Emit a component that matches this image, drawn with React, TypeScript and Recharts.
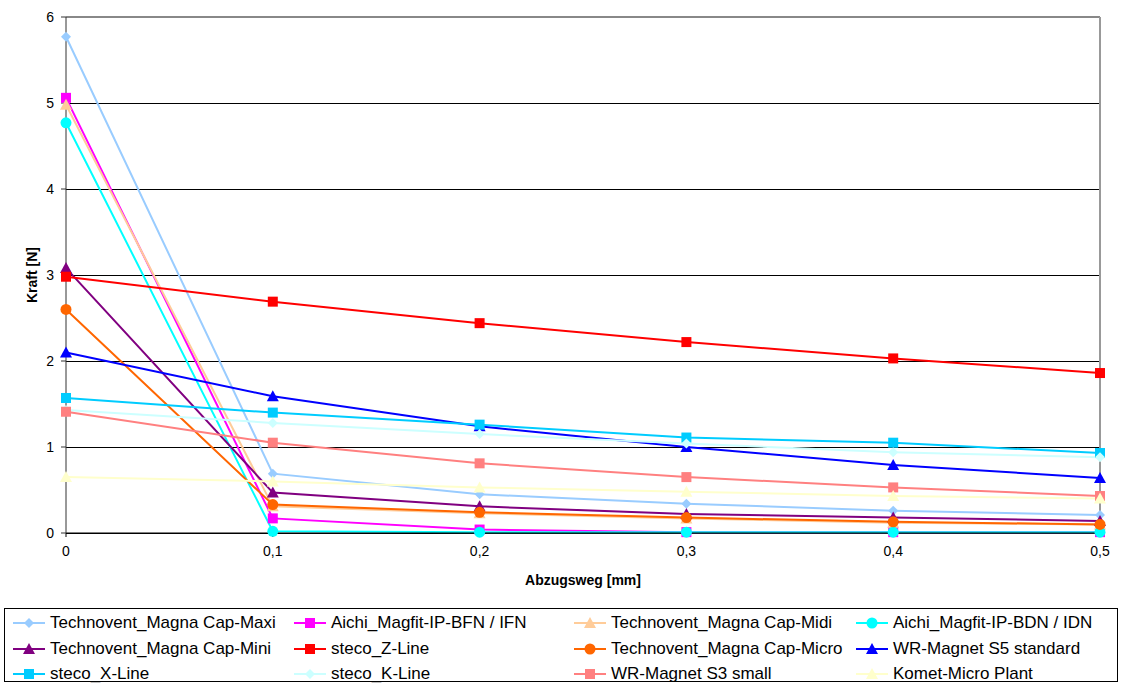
import React from 'react'
import { LineChart, Line, XAxis, YAxis, CartesianGrid, ReferenceLine } from 'recharts'

const xValues = [0, 0.1, 0.2, 0.3, 0.4, 0.5]
const xTickLabels = ['0', '0,1', '0,2', '0,3', '0,4', '0,5']
const yTicks = [0, 1, 2, 3, 4, 5, 6]

const maxi = [5.77, 0.69, 0.45, 0.34, 0.26, 0.21]
const bfn = [5.06, 0.17, 0.04, 0.01, 0.01, 0.01]
const midi = [4.98, 0.31, 0.23, 0.17, 0.12, 0.1]
const bdn = [4.77, 0.02, 0.01, 0.01, 0.01, 0.01]
const mini = [3.08, 0.47, 0.31, 0.22, 0.18, 0.14]
const zLine = [2.98, 2.69, 2.44, 2.22, 2.03, 1.86]
const micro = [2.6, 0.33, 0.24, 0.18, 0.13, 0.1]
const s5 = [2.1, 1.59, 1.24, 1.0, 0.79, 0.64]
const xLine = [1.57, 1.4, 1.26, 1.11, 1.05, 0.93]
const kLine = [1.43, 1.28, 1.15, 1.04, 0.94, 0.88]
const s3 = [1.41, 1.05, 0.81, 0.65, 0.53, 0.43]
const komet = [0.65, 0.6, 0.53, 0.48, 0.43, 0.4]

type Shape = 'diamond' | 'square' | 'triangle' | 'circle'

const series: { key: string; name: string; values: number[]; color: string; shape: Shape }[] = [
  { key: 'maxi', name: 'Technovent_Magna Cap-Maxi', values: maxi, color: '#99ccff', shape: 'diamond' },
  { key: 'bfn', name: 'Aichi_Magfit-IP-BFN / IFN', values: bfn, color: '#ff00ff', shape: 'square' },
  { key: 'midi', name: 'Technovent_Magna Cap-Midi', values: midi, color: '#ffcc99', shape: 'triangle' },
  { key: 'bdn', name: 'Aichi_Magfit-IP-BDN / IDN', values: bdn, color: '#00ffff', shape: 'circle' },
  { key: 'mini', name: 'Technovent_Magna Cap-Mini', values: mini, color: '#800080', shape: 'triangle' },
  { key: 'zline', name: 'steco_Z-Line', values: zLine, color: '#ff0000', shape: 'square' },
  { key: 'micro', name: 'Technovent_Magna Cap-Micro', values: micro, color: '#ff6600', shape: 'circle' },
  { key: 's5', name: 'WR-Magnet S5 standard', values: s5, color: '#0000ff', shape: 'triangle' },
  { key: 'xline', name: 'steco_X-Line', values: xLine, color: '#00ccff', shape: 'square' },
  { key: 'kline', name: 'steco_K-Line', values: kLine, color: '#ccffff', shape: 'diamond' },
  { key: 's3', name: 'WR-Magnet S3 small', values: s3, color: '#ff8080', shape: 'square' },
  { key: 'komet', name: 'Komet-Micro Plant', values: komet, color: '#ffffcc', shape: 'triangle' },
]

const data = xValues.map((x, i) => {
  const row: Record<string, number> = { x }
  series.forEach((s) => {
    row[s.key] = s.values[i]
  })
  return row
})

const font = '"Liberation Sans", Arial, sans-serif'

const Marker = ({ cx, cy, shape, color }: { cx: number; cy: number; shape: Shape; color: string }) => {
  if (shape === 'diamond') {
    return <polygon points={`${cx},${cy - 5} ${cx + 5},${cy} ${cx},${cy + 5} ${cx - 5},${cy}`} fill={color} />
  }
  if (shape === 'square') {
    return <rect x={cx - 5} y={cy - 5} width={10} height={10} fill={color} />
  }
  if (shape === 'triangle') {
    return <polygon points={`${cx},${cy - 6} ${cx + 6},${cy + 5} ${cx - 6},${cy + 5}`} fill={color} />
  }
  return <circle cx={cx} cy={cy} r={5.5} fill={color} />
}

const makeDot = (shape: Shape, color: string) => (props: any) => {
  const { cx, cy, index } = props
  if (cx == null || cy == null) return <g key={index} />
  return (
    <g key={index}>
      <Marker cx={cx} cy={cy} shape={shape} color={color} />
    </g>
  )
}

const LegendBox = () => {
  const cols = [8, 289, 569, 851]
  return (
    <div
      style={{
        position: 'absolute',
        left: 4,
        top: 608,
        width: 1112,
        height: 72,
        border: '1px solid #000',
        fontFamily: font,
        fontSize: 17,
        color: '#000',
      }}
    >
      {series.map((s, i) => {
        const col = i % 4
        const row = Math.floor(i / 4)
        return (
          <div
            key={s.key}
            style={{
              position: 'absolute',
              left: cols[col],
              top: 2 + row * 25.5,
              height: 24,
              display: 'flex',
              alignItems: 'center',
              whiteSpace: 'nowrap',
            }}
          >
            <svg width={32} height={14} style={{ marginRight: 5 }}>
              <line x1={0} y1={7} x2={32} y2={7} stroke={s.color} strokeWidth={2} />
              <Marker cx={16} cy={7} shape={s.shape} color={s.color} />
            </svg>
            <span>{s.name}</span>
          </div>
        )
      })}
    </div>
  )
}

export default function App() {
  return (
    <div style={{ position: 'absolute', left: 0, top: 0, width: 1124, height: 684, background: '#fff' }}>
      <LineChart
        width={1124}
        height={600}
        data={data}
        margin={{ top: 17, right: 24, bottom: 12, left: 10 }}
      >
        <CartesianGrid
          horizontal
          vertical={false}
          stroke="#000"
          strokeWidth={1}
          shapeRendering="crispEdges"
        />
        <XAxis
          dataKey="x"
          type="number"
          domain={[0, 0.5]}
          ticks={xValues}
          tickFormatter={(v: number) => xTickLabels[xValues.indexOf(v)] ?? String(v)}
          height={55}
          tickSize={4}
          tickMargin={9}
          stroke="#000"
          tick={{ fill: '#000', fontSize: 14, fontFamily: font }}
          label={{
            value: 'Abzugsweg [mm]',
            position: 'insideBottom',
            offset: 3,
            style: { fontFamily: font, fontSize: 14, fontWeight: 'bold', fill: '#000' },
          }}
        />
        <YAxis
          type="number"
          domain={[0, 6]}
          ticks={yTicks}
          width={56}
          tickSize={5}
          tickMargin={7}
          stroke="#333"
          tick={{ fill: '#000', fontSize: 14, fontFamily: font }}
          label={{
            value: 'Kraft [N]',
            angle: -90,
            position: 'insideLeft',
            offset: 22,
            style: { fontFamily: font, fontSize: 14, fontWeight: 'bold', fill: '#000', textAnchor: 'middle' },
          }}
        />
        <ReferenceLine y={6} stroke="#888" strokeWidth={2} />
        <ReferenceLine x={0.5} stroke="#999" strokeWidth={2} />
        {series.map((s) => (
          <Line
            key={s.key}
            type="linear"
            dataKey={s.key}
            name={s.name}
            stroke={s.color}
            strokeWidth={2}
            dot={makeDot(s.shape, s.color)}
            activeDot={false}
            isAnimationActive={false}
          />
        ))}
      </LineChart>
      <LegendBox />
    </div>
  )
}
